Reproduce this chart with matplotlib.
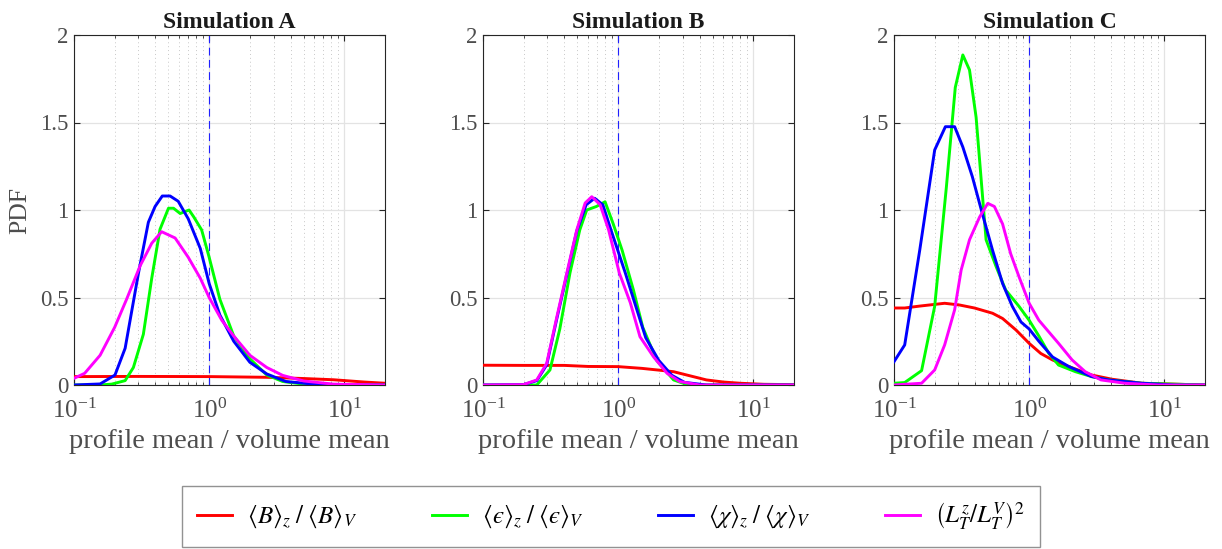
import numpy as np
import matplotlib
matplotlib.use("Agg")
import matplotlib.pyplot as plt
from matplotlib.ticker import FixedLocator, LogLocator, NullFormatter

plt.rcParams["font.family"] = ["Liberation Serif", "DejaVu Serif"]
plt.rcParams["mathtext.fontset"] = "stix"

# Data

titles = ["Simulation A", "Simulation B", "Simulation C"]
labels = [r"$\langle B\rangle_z\;/\;\langle B\rangle_V$",
          "$\\langle \u03f5\\rangle_z\\;/\\;\\langle \u03f5\\rangle_V$",
          r"$\langle\chi\rangle_z\;/\;\langle\chi\rangle_V$",
          r"$\left(L_T^z/L_T^V\right)^2$"]
colors = ["#ff0000", "#00ff00", "#0000ff", "#ff00ff"]

# Simulation A
a_red_x = [0.1, 0.3, 1.0, 2.67, 5.0, 8.3, 14, 20]
a_red_y = [0.048, 0.049, 0.048, 0.044, 0.037, 0.03, 0.017, 0.01]
a_green_x = [0.1, 0.156, 0.19, 0.239, 0.275, 0.326, 0.376, 0.433, 0.5, 0.545, 0.61, 0.71, 0.77,
             0.88, 1.0, 1.2, 1.52, 2.0, 2.67, 3.5, 5.0, 20]
a_green_y = [0, 0, 0.005, 0.025, 0.1, 0.29, 0.61, 0.89, 1.01, 1.01, 0.98, 1.0, 0.96,
             0.886, 0.73, 0.49, 0.28, 0.15, 0.057, 0.02, 0.005, 0]
a_blue_x = [0.1, 0.156, 0.201, 0.239, 0.30, 0.355, 0.398, 0.45, 0.514, 0.59, 0.70, 0.86, 1.0,
            1.2, 1.52, 2.0, 2.67, 3.7, 6.3, 20]
a_blue_y = [0, 0.006, 0.057, 0.21, 0.64, 0.93, 1.02, 1.08, 1.08, 1.05, 0.95, 0.78, 0.58,
            0.40, 0.25, 0.13, 0.063, 0.02, 0.003, 0]
a_mag_x = [0.1, 0.12, 0.156, 0.2, 0.245, 0.308, 0.376, 0.445, 0.56, 0.70, 0.86, 1.0, 1.24,
           1.52, 2.0, 2.67, 3.5, 5.0, 8.3, 20]
a_mag_y = [0.038, 0.067, 0.17, 0.33, 0.49, 0.68, 0.81, 0.876, 0.84, 0.73, 0.61, 0.50, 0.37,
           0.28, 0.17, 0.10, 0.055, 0.023, 0.005, 0]

# Simulation B
b_red_x = [0.1, 0.2, 0.4, 0.6, 1.0, 1.5, 2.0, 2.57, 3.5, 4.5, 6.0, 8.0, 12, 20]
b_red_y = [0.113, 0.112, 0.112, 0.106, 0.105, 0.095, 0.085, 0.076, 0.05, 0.029, 0.017, 0.01,
           0.004, 0.002]
b_green_x = [0.1, 0.25, 0.313, 0.37, 0.44, 0.52, 0.585, 0.69, 0.80, 0.92, 1.07, 1.3, 1.52,
             1.93, 2.57, 3.3, 20]
b_green_y = [0, 0, 0.086, 0.32, 0.64, 0.886, 1.0, 1.02, 1.047, 0.92, 0.77, 0.54, 0.33,
             0.14, 0.029, 0, 0]
b_blue_x = [0.1, 0.199, 0.25, 0.296, 0.352, 0.417, 0.494, 0.58, 0.67, 0.77, 0.89, 1.13, 1.35,
            1.6, 2.0, 2.5, 3.1, 4.5, 20]
b_blue_y = [0, 0.002, 0.025, 0.115, 0.38, 0.63, 0.88, 1.03, 1.067, 1.03, 0.88, 0.64, 0.45,
            0.27, 0.14, 0.055, 0.015, 0, 0]
b_mag_x = [0.1, 0.199, 0.25, 0.296, 0.352, 0.417, 0.494, 0.57, 0.638, 0.736, 0.85, 1.02, 1.23,
           1.45, 1.83, 2.3, 2.85, 4.0, 20]
b_mag_y = [0, 0.002, 0.029, 0.124, 0.39, 0.64, 0.886, 1.04, 1.076, 1.03, 0.886, 0.64, 0.47,
           0.276, 0.16, 0.067, 0.02, 0, 0]

# Simulation C
c_red_x = [0.1, 0.12, 0.155, 0.237, 0.306, 0.394, 0.536, 0.636, 0.8, 1.0, 1.22, 1.49, 1.97,
           2.9, 4.1, 6.8, 20]
c_red_y = [0.44, 0.44, 0.451, 0.467, 0.457, 0.44, 0.41, 0.38, 0.314, 0.238, 0.18, 0.143, 0.105,
           0.057, 0.033, 0.01, 0]
c_green_x = [0.1, 0.12, 0.16, 0.2, 0.244, 0.284, 0.323, 0.362, 0.405, 0.48, 0.57, 0.67, 0.84,
             1.0, 1.18, 1.4, 1.65, 2.2, 2.9, 3.87, 6.8, 20]
c_green_y = [0.01, 0.014, 0.082, 0.45, 1.13, 1.70, 1.886, 1.80, 1.53, 0.83, 0.676, 0.543, 0.45,
             0.37, 0.28, 0.18, 0.114, 0.076, 0.048, 0.029, 0.01, 0]
c_blue_x = [0.1, 0.12, 0.155, 0.2, 0.24, 0.281, 0.323, 0.38, 0.45, 0.536, 0.636, 0.75, 0.87,
            1.0, 1.18, 1.49, 1.97, 2.9, 3.87, 6.8, 12, 20]
c_blue_y = [0.133, 0.229, 0.77, 1.343, 1.476, 1.476, 1.36, 1.19, 0.98, 0.77, 0.58, 0.45, 0.36,
            0.32, 0.25, 0.16, 0.105, 0.048, 0.029, 0.01, 0, 0]
c_mag_x = [0.1, 0.16, 0.2, 0.237, 0.281, 0.314, 0.362, 0.43, 0.494, 0.553, 0.636, 0.73, 0.84,
           1.0, 1.18, 1.36, 1.65, 2.08, 2.6, 3.4, 5.1, 9.0, 20]
c_mag_y = [0, 0.01, 0.086, 0.229, 0.43, 0.657, 0.83, 0.96, 1.038, 1.02, 0.92, 0.75, 0.62,
           0.467, 0.37, 0.314, 0.238, 0.143, 0.076, 0.029, 0.01, 0, 0]

panels = [
    [(a_red_x, a_red_y), (a_green_x, a_green_y), (a_blue_x, a_blue_y), (a_mag_x, a_mag_y)],
    [(b_red_x, b_red_y), (b_green_x, b_green_y), (b_blue_x, b_blue_y), (b_mag_x, b_mag_y)],
    [(c_red_x, c_red_y), (c_green_x, c_green_y), (c_blue_x, c_blue_y), (c_mag_x, c_mag_y)],
]

y_ticks = [0, 0.5, 1, 1.5, 2]
y_tick_labels = ["0", "0.5", "1", "1.5", "2"]

TEXT_GREY = "#4d4d4d"


def style_axis(ax, title, show_ylabel):
    ax.set_xscale("log")
    ax.set_xlim(0.1, 20)
    ax.set_ylim(0, 2)
    ax.yaxis.set_major_locator(FixedLocator(y_ticks))
    ax.set_yticklabels(y_tick_labels)
    ax.xaxis.set_minor_locator(LogLocator(base=10, subs=np.arange(2, 10)))
    ax.xaxis.set_minor_formatter(NullFormatter())
    ax.grid(which="major", color="#e3e3e3", linewidth=0.9, linestyle="-")
    ax.grid(which="minor", axis="x", color="#c8c8c8", linewidth=0.7, linestyle=(0, (1, 3)))
    ax.set_axisbelow(True)
    ax.tick_params(which="both", direction="in", top=True, right=True,
                   labelcolor=TEXT_GREY, color="#262626")
    ax.tick_params(which="major", length=4, width=0.8)
    ax.tick_params(which="minor", length=2.5, width=0.6)
    ax.tick_params(axis="x", labelsize=18, pad=10)
    ax.tick_params(axis="y", labelsize=16.5, pad=4)
    for spine in ax.spines.values():
        spine.set_color("#262626")
        spine.set_linewidth(0.8)
    ax.set_title(title, fontsize=17, fontweight="bold", color="#1a1a1a", pad=5)
    ax.set_xlabel("profile mean / volume mean", fontsize=20.5, color=TEXT_GREY, labelpad=4)
    if show_ylabel:
        ax.set_ylabel("PDF", fontsize=18.5, color=TEXT_GREY, labelpad=6)


fig = plt.figure(figsize=(12.22, 5.49), dpi=100)
lefts = [74, 483, 894]
handles = []
for i, (left, title, series) in enumerate(zip(lefts, titles, panels)):
    ax = fig.add_axes([left / 1222, (549 - 385) / 549, 311 / 1222, 350 / 549])
    ax.axvline(1.0, color="#2020ff", linewidth=0.8, linestyle=(0, (7, 4)), zorder=2)
    for (xs, ys), col, lab in zip(series, colors, labels):
        line, = ax.plot(xs, ys, color=col, linewidth=2.1, label=lab, zorder=3,
                        solid_joinstyle="round")
        if i == 0:
            handles.append(line)
    style_axis(ax, title, i == 0)

leg = fig.legend(handles=handles, labels=labels, ncol=4, loc="lower left",
                 bbox_to_anchor=(182 / 1222, 2 / 549, 858 / 1222, 58 / 549),
                 mode="expand", borderaxespad=0, fontsize=18,
                 frameon=True, fancybox=False, edgecolor="#777777",
                 handlelength=1.4, handletextpad=0.6, columnspacing=2.0,
                 borderpad=0.6)
leg.get_frame().set_linewidth(1.0)

fig.savefig("out.png", dpi=100)
